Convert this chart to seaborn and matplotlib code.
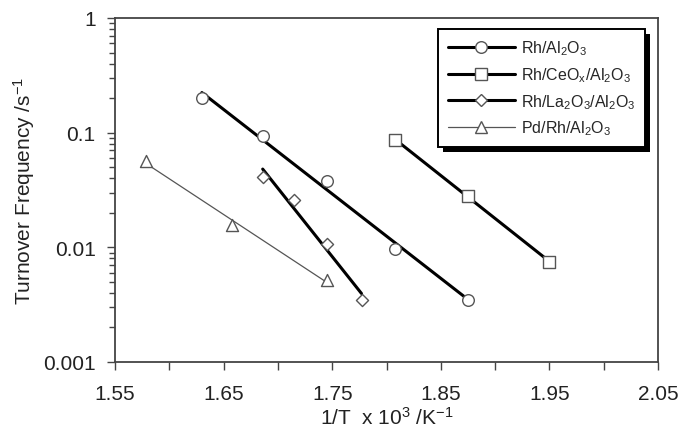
import numpy as np
import pandas as pd
import matplotlib
matplotlib.use("Agg")
import matplotlib.pyplot as plt
from matplotlib.lines import Line2D
from matplotlib.patches import Rectangle
from matplotlib.ticker import LogLocator, NullFormatter, MultipleLocator, FixedFormatter, FixedLocator
import seaborn as sns

# ---- data ----
rh_x = [1.630, 1.686, 1.745, 1.808, 1.875]
rh_y = [0.200, 0.093, 0.0377, 0.0097, 0.00348]

ce_x = [1.808, 1.875, 1.950]
ce_y = [0.086, 0.0283, 0.00743]

la_x = [1.686, 1.715, 1.745, 1.777]
la_y = [0.0409, 0.0261, 0.0106, 0.00348]

pd_x = [1.579, 1.658, 1.745]
pd_y = [0.0565, 0.01555, 0.0052]

series_names = ["Rh/Al$_2$O$_3$", "Rh/CeO$_x$/Al$_2$O$_3$",
                "Rh/La$_2$O$_3$/Al$_2$O$_3$", "Pd/Rh/Al$_2$O$_3$"]
x_ticks = [1.55, 1.65, 1.75, 1.85, 1.95, 2.05]
x_tick_labels = ["1.55", "1.65", "1.75", "1.85", "1.95", "2.05"]
y_ticks = [0.001, 0.01, 0.1, 1]
y_tick_labels = ["0.001", "0.01", "0.1", "1"]

sns.set_style("ticks")
plt.rcParams["font.family"] = ["Liberation Sans", "DejaVu Sans"]
plt.rcParams["mathtext.default"] = "regular"

fig = plt.figure(figsize=(6.86, 4.31), dpi=100)
ax = fig.add_axes([115/686, 1-363/431, (658-115)/686, (363-19)/431])

styles = [
    dict(marker="o", s=70, lw=2.2, color="black"),
    dict(marker="s", s=70, lw=2.2, color="black"),
    dict(marker="D", s=38, lw=2.2, color="black"),
    dict(marker="^", s=75, lw=0.9, color="#555555"),
]
all_series = [(rh_x, rh_y), (ce_x, ce_y), (la_x, la_y), (pd_x, pd_y)]

handles = []
for (xs, ys), name, st in zip(all_series, series_names, styles):
    xs = np.asarray(xs); ys = np.asarray(ys)
    coef = np.polyfit(xs, np.log10(ys), 1)
    fx = np.array([xs.min(), xs.max()])
    fy = 10 ** np.polyval(coef, fx)
    fit = pd.DataFrame({"x": fx, "y": fy})
    sns.lineplot(data=fit, x="x", y="y", ax=ax, color=st["color"], lw=st["lw"], zorder=2)
    pts = pd.DataFrame({"x": xs, "y": ys})
    sns.scatterplot(data=pts, x="x", y="y", ax=ax, marker=st["marker"], s=st["s"],
                    facecolor="white", edgecolor="#555555", linewidth=1.0, zorder=3)
    msize = np.sqrt(st["s"])
    handles.append(Line2D([], [], color=st["color"], lw=st["lw"], marker=st["marker"],
                          markersize=msize, markerfacecolor="white",
                          markeredgecolor="#555555", markeredgewidth=1.0))

ax.set_yscale("log")
ax.set_xlim(1.55, 2.05)
ax.set_ylim(0.001, 1)

ax.xaxis.set_major_locator(FixedLocator(x_ticks))
ax.xaxis.set_major_formatter(FixedFormatter(x_tick_labels))
ax.xaxis.set_minor_locator(MultipleLocator(0.05))
ax.yaxis.set_major_locator(FixedLocator(y_ticks))
ax.yaxis.set_major_formatter(FixedFormatter(y_tick_labels))
ax.yaxis.set_minor_locator(LogLocator(base=10, subs=np.arange(2, 10)))
ax.yaxis.set_minor_formatter(NullFormatter())

ax.tick_params(axis="both", which="major", direction="out", length=6, width=1.0,
               color="#444444", labelsize=15, labelcolor="#222222")
ax.tick_params(axis="x", which="major", pad=10)
ax.tick_params(axis="y", which="major", pad=8)
ax.tick_params(axis="x", which="minor", direction="out", length=6, width=1.0, color="#444444")
ax.tick_params(axis="y", which="minor", direction="out", length=4, width=1.0, color="#444444")

for sp in ax.spines.values():
    sp.set_visible(True)
    sp.set_color("#444444")
    sp.set_linewidth(1.3)

ax.set_xlabel("1/T  x 10$^3$ /K$^{-1}$", fontsize=15, color="#222222", labelpad=2)
ax.set_ylabel("Turnover Frequency /s$^{-1}$", fontsize=15, color="#222222", labelpad=4)

leg = ax.legend(handles, series_names, loc="upper left",
                bbox_to_anchor=(0.595, 0.968), fontsize=11.5, frameon=True,
                fancybox=False, shadow=False, framealpha=1.0,
                handlelength=4.2, numpoints=1, labelspacing=0.5,
                borderpad=0.6, handletextpad=0.4, borderaxespad=0)
leg.get_frame().set_edgecolor("black")
leg.get_frame().set_linewidth(1.4)
leg.get_frame().set_facecolor("white")
leg.get_frame().set_alpha(1.0)
leg.set_zorder(5)

# drop shadow behind the legend box (offset down-right, as in the reference)
fig.canvas.draw()
bb = leg.get_frame().get_window_extent()
W, H = fig.bbox.width, fig.bbox.height
dx, dy = 5, 5
shadow = Rectangle(((bb.x0 + dx) / W, (bb.y0 - dy) / H), bb.width / W, bb.height / H,
                   transform=fig.transFigure, facecolor="black", edgecolor="none",
                   zorder=4.5)
ax.add_artist(shadow)
shadow.set_clip_on(False)

fig.savefig("out.png", dpi=100)
